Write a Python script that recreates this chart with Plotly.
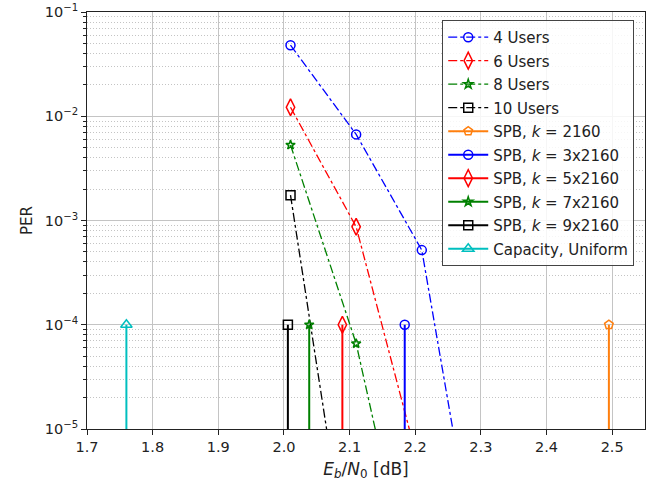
import plotly.graph_objects as go

# ---- data ----
users_names = ["4 Users", "6 Users", "8 Users", "10 Users"]
users_x = [
    [2.01, 2.11, 2.21, 2.31],
    [2.01, 2.11, 2.21],
    [2.01, 2.11, 2.21],
    [2.01, 2.11],
]
users_per = [
    [0.048, 0.0067, 5.2e-4, 1.2e-7],
    [0.0122, 8.7e-4, 3.5e-6],
    [0.0053, 6.6e-5, 1.0e-7],
    [0.00175, 1.45e-7],
]
users_colors = ["#0000ff", "#ff0000", "#008000", "#000000"]
users_symbols = ["circle-open", "diamond-tall-open", "star-open", "square-open"]
users_sizes = [9, 12, 7, 9]

spb_names = ["SPB, <i>k</i> = 2160", "SPB, <i>k</i> = 3x2160", "SPB, <i>k</i> = 5x2160",
             "SPB, <i>k</i> = 7x2160", "SPB, <i>k</i> = 9x2160", "Capacity, Uniform"]
spb_x = [2.495, 2.184, 2.089, 2.0385, 2.006, 1.76]
spb_per = [1e-4, 1e-4, 1e-4, 1e-4, 1e-4, 1e-4]
spb_base = 1e-7
spb_colors = ["#ff7f0e", "#0000ff", "#ff0000", "#008000", "#000000", "#00bfbf"]
spb_symbols = ["pentagon-open", "circle-open", "diamond-tall-open", "star-open",
               "square-open", "triangle-up-open"]
spb_sizes = [9, 9, 12, 7, 9, 10]

y_tickvals = [1e-5, 1e-4, 1e-3, 1e-2, 1e-1]
y_ticktext = ["10<sup>−5</sup>", "10<sup>−4</sup>", "10<sup>−3</sup>",
              "10<sup>−2</sup>", "10<sup>−1</sup>"]
x_tickvals = [1.7, 1.8, 1.9, 2.0, 2.1, 2.2, 2.3, 2.4, 2.5]
x_ticktext = ["1.7", "1.8", "1.9", "2.0", "2.1", "2.2", "2.3", "2.4", "2.5"]

minor_vals = [k * 10.0 ** e for e in range(-5, -1) for k in range(2, 10)]

fig = go.Figure()

for i, name in enumerate(users_names):
    fig.add_trace(go.Scatter(
        x=users_x[i], y=users_per[i], name=name, mode="lines+markers",
        legendgroup=name,
        line=dict(color=users_colors[i], width=1.3, dash="dashdot"),
        marker=dict(symbol=users_symbols[i], size=users_sizes[i], color=users_colors[i],
                    line=dict(width=1.5)),
        cliponaxis=True,
    ))

for i, name in enumerate(spb_names):
    fig.add_trace(go.Scatter(
        x=[spb_x[i], spb_x[i]], y=[spb_base, spb_per[i]], name=name, mode="lines+markers",
        legendgroup=name,
        line=dict(color=spb_colors[i], width=2),
        marker=dict(symbol=spb_symbols[i], size=spb_sizes[i], color=spb_colors[i],
                    line=dict(width=1.5)),
        cliponaxis=True,
    ))

axis_common = dict(
    showline=True, linecolor="#222222", linewidth=1, mirror=True,
    ticks="outside", ticklen=5, tickcolor="#222222", tickwidth=1,
    showgrid=True, gridcolor="#c4c4c4", gridwidth=1, zeroline=False,
    automargin=False,
    tickfont=dict(family="DejaVu Sans", size=14.5, color="#222222"),
)

fig.update_layout(
    width=654, height=483,
    margin=dict(l=87, r=9, t=12, b=54),
    paper_bgcolor="white", plot_bgcolor="white",
    font=dict(family="DejaVu Sans", size=15, color="#222222"),
    xaxis=dict(
        range=[1.7, 2.55], tickmode="array", tickvals=x_tickvals, ticktext=x_ticktext,
        title=dict(text="<i>E</i><sub><i>b</i></sub>/<i>N</i><sub>0</sub> [dB]",
                   font=dict(size=17), standoff=8),
        **axis_common,
    ),
    yaxis=dict(
        type="log", range=[-5, -1], tickmode="array", tickvals=y_tickvals,
        ticktext=y_ticktext,
        title=dict(text="PER", font=dict(size=15), standoff=8),
        minor=dict(tickmode="array", tickvals=minor_vals, ticks="outside", ticklen=3,
                   tickcolor="#222222", showgrid=True, griddash="1px,2px",
                   gridcolor="#c4c4c4", gridwidth=1),
        **axis_common,
    ),
    legend=dict(
        x=0.6366, y=0.981, xanchor="left", yanchor="top",
        bgcolor="rgba(255,255,255,0.85)", bordercolor="#444444", borderwidth=1,
        font=dict(family="DejaVu Sans", size=15, color="#222222"),
        tracegroupgap=1, itemwidth=40,
    ),
    showlegend=True,
)

fig.write_html("out.html", config={"displayModeBar": False},
               post_script="document.body.style.margin='0px';")
